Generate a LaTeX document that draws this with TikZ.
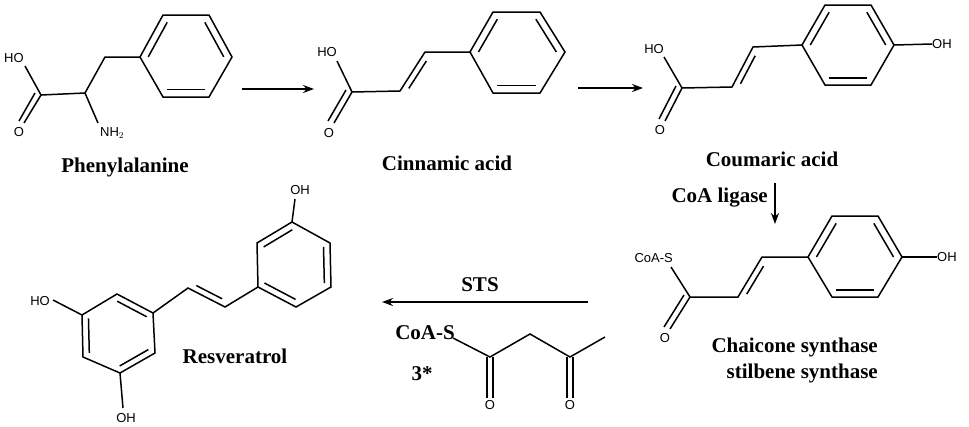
\documentclass[tikz,border=0pt]{standalone}
\usepackage{fontspec}
\setmainfont{Liberation Serif}
\newfontfamily\atomfont{Liberation Sans}
\usetikzlibrary{calc,arrows.meta}
\tikzset{
  bond/.style={line width=1.5pt},
  atom/.style={font=\atomfont\fontsize{13}{13}\selectfont,inner sep=0pt},
  lbl/.style={font=\bfseries\fontsize{21}{21}\selectfont,inner sep=0pt},
  rxn/.style={line width=1.5pt,-{Stealth[length=11pt,width=8pt]}},
}
\newcommand{\innerb}[3]{\draw[bond] ($(#1)!0.18!(#3)$) -- ($(#2)!0.18!(#3)$);}
\newcommand{\dblb}[3]{\draw[bond] ($ ($(#1)!0.15!(#2)$) !6pt!#3:(#2) $) -- ($ ($(#2)!0.15!(#1)$) !6pt!-#3:(#1) $);}
\begin{document}
\begin{tikzpicture}[x=1pt,y=-1pt]
\useasboundingbox (0,0) rectangle (969,426);
% ---------- Phenylalanine
\node[atom] (pHO) at (14,58) {HO};
\node[atom] (pO) at (19,132) {O};
\node[atom,anchor=west] (pN) at (100,133) {NH$_2$};
\coordinate (pc1) at (41,95); \coordinate (pc2) at (85,93); \coordinate (pc3) at (105,57);
\coordinate (pr1) at (140,57); \coordinate (pr2) at (163,15); \coordinate (pr3) at (209,15);
\coordinate (pr4) at (232,57); \coordinate (pr5) at (209,97); \coordinate (pr6) at (163,97);
\coordinate (prc) at (186,56);
\draw[bond] (25,66) -- (pc1) -- (pc2) -- (98,123);
\draw[bond] (pc1) -- (24,123);
\draw[bond] ($(pc1)+(-6,-2)$) -- (19,121);
\draw[bond] (pc2) -- (pc3) -- (pr1);
\draw[bond] (pr1)--(pr2)--(pr3)--(pr4)--(pr5)--(pr6)--cycle;
\innerb{pr1}{pr2}{prc}\innerb{pr3}{pr4}{prc}\innerb{pr5}{pr6}{prc}
\node[lbl] (lphe) at (125,167) {Phenylalanine};
\coordinate (a1s) at (242,89); \coordinate (a1e) at (314,89);
\draw[rxn] (a1s) -- (a1e);
% ---------- Cinnamic acid
\node[atom] (cHO) at (327,52) {HO};
\node[atom] (cO) at (329,133) {O};
\coordinate (cc1) at (352,92); \coordinate (cc2) at (400,91); \coordinate (cc3) at (425,52);
\coordinate (cr1) at (470,52); \coordinate (cr2) at (493,12); \coordinate (cr3) at (540,12);
\coordinate (cr4) at (565,52); \coordinate (cr5) at (540,93); \coordinate (cr6) at (493,93);
\coordinate (crc) at (517,52);
\draw[bond] (337,61) -- (cc1) -- (cc2) -- (cc3) -- (cr1);
\draw[bond] (cc1) -- (334,123);
\draw[bond] ($(cc1)+(-6,-2)$) -- (328,121);
\dblb{cc2}{cc3}{-90}
\draw[bond] (cr1)--(cr2)--(cr3)--(cr4)--(cr5)--(cr6)--cycle;
\innerb{cr1}{cr2}{crc}\innerb{cr3}{cr4}{crc}\innerb{cr5}{cr6}{crc}
\node[lbl] (lcin) at (447,163) {Cinnamic acid};
\coordinate (a2s) at (578,88); \coordinate (a2e) at (643,88);
\draw[rxn] (a2s) -- (a2e);
% ---------- Coumaric acid
\node[atom] (kHO) at (654,49) {HO};
\node[atom] (kO) at (660,130) {O};
\node[atom,anchor=west] (kOH) at (932,44) {OH};
\coordinate (kc1) at (682,88); \coordinate (kc2) at (732,87); \coordinate (kc3) at (753,47);
\coordinate (kr1) at (802,45); \coordinate (kr2) at (825,5); \coordinate (kr3) at (871,5);
\coordinate (kr4) at (894,45); \coordinate (kr5) at (871,85); \coordinate (kr6) at (825,85);
\coordinate (krc) at (848,45);
\draw[bond] (664,57) -- (kc1) -- (kc2) -- (kc3) -- (kr1);
\draw[bond] (kc1) -- (665,121);
\draw[bond] ($(kc1)+(-6,-2)$) -- (659,119);
\dblb{kc2}{kc3}{-90}
\draw[bond] (kr1)--(kr2)--(kr3)--(kr4)--(kr5)--(kr6)--cycle;
\innerb{kr1}{kr2}{krc}\innerb{kr3}{kr4}{krc}\innerb{kr5}{kr6}{krc}
\draw[bond] (kr4) -- (kOH.west);
\node[lbl] (lcou) at (772,159) {Coumaric acid};
\node[lbl,anchor=east] (lcoa) at (768,198) {CoA ligase};
\coordinate (a3s) at (775,183); \coordinate (a3e) at (775,224);
\draw[rxn] (a3s) -- (a3e);
% ---------- CoA ester
\node[atom,anchor=east] (sS) at (673,258) {CoA-S};
\node[atom] (sO) at (665,338) {O};
\node[atom,anchor=west] (sOH) at (937,257) {OH};
\coordinate (sc1) at (690,297); \coordinate (sc2) at (738,297); \coordinate (sc3) at (762,257);
\coordinate (sr1) at (808,257); \coordinate (sr2) at (832,216); \coordinate (sr3) at (878,216);
\coordinate (sr4) at (902,257); \coordinate (sr5) at (878,297); \coordinate (sr6) at (832,297);
\coordinate (src) at (855,257);
\draw[bond] (671,267) -- (sc1) -- (sc2) -- (sc3) -- (sr1);
\draw[bond] (sc1) -- (670,329);
\draw[bond] ($(sc1)+(-6,-2)$) -- (664,327);
\dblb{sc2}{sc3}{-90}
\draw[bond] (sr1)--(sr2)--(sr3)--(sr4)--(sr5)--(sr6)--cycle;
\innerb{sr1}{sr2}{src}\innerb{sr3}{sr4}{src}\innerb{sr5}{sr6}{src}
\draw[bond] (sr4) -- (sOH.west);
\node[lbl,anchor=east] (lchs) at (878,347) {Chaicone synthase};
\node[lbl,anchor=east] (lsts) at (878,373) {stilbene synthase};
% ---------- STS arrow and malonyl
\coordinate (a4s) at (588,302); \coordinate (a4e) at (382,302);
\draw[rxn] (a4s) -- (a4e);
\node[lbl] (lSTS) at (480,285) {STS};
\node[lbl,anchor=east] (mS) at (455,333) {CoA-S};
\node[lbl] (m3) at (422,374) {3*};
\coordinate (mc1) at (490,357); \coordinate (mc2) at (530,334); \coordinate (mc3) at (570,357); \coordinate (mc4) at (605,337);
\node[atom] (mO1) at (490,405) {O};
\node[atom] (mO2) at (570,405) {O};
\draw[bond] (453,338) -- (mc1) -- (mc2) -- (mc3) -- (mc4);
\draw[bond] ($(mc1)+(-3,0)$) -- ($(mO1.north)+(-3,-2)$);
\draw[bond] ($(mc1)+(3,0)$) -- ($(mO1.north)+(3,-2)$);
\draw[bond] ($(mc3)+(-3,0)$) -- ($(mO2.north)+(-3,-2)$);
\draw[bond] ($(mc3)+(3,0)$) -- ($(mO2.north)+(3,-2)$);
% ---------- Resveratrol
\node[atom] (rHO) at (40,301) {HO};
\node[atom] (rOHb) at (126,418) {OH};
\node[atom] (rOHt) at (300,190) {OH};
\coordinate (l1) at (117,294); \coordinate (l2) at (153,313); \coordinate (l3) at (155,353);
\coordinate (l4) at (120,373); \coordinate (l5) at (83,357); \coordinate (l6) at (82,315);
\coordinate (lc) at (118,334);
\draw[bond] (l1)--(l2)--(l3)--(l4)--(l5)--(l6)--cycle;
\innerb{l1}{l2}{lc}\innerb{l5}{l6}{lc}\innerb{l3}{l4}{lc}
\draw[bond] (l6) -- (53,300);
\draw[bond] (l4) -- (123,408);
\coordinate (v1) at (188,288); \coordinate (v2) at (225,307);
\coordinate (q1) at (258,287); \coordinate (q2) at (257,243); \coordinate (q3) at (292,222);
\coordinate (q4) at (330,243); \coordinate (q5) at (331,287); \coordinate (q6) at (296,307);
\coordinate (qc) at (294,265);
\draw[bond] (l2) -- (v1) -- (v2) -- (q1);
\dblb{v1}{v2}{90}
\draw[bond] (q1)--(q2)--(q3)--(q4)--(q5)--(q6)--cycle;
\innerb{q2}{q3}{qc}\innerb{q4}{q5}{qc}\innerb{q6}{q1}{qc}
\draw[bond] (q3) -- (295,199);
\node[lbl] (lres) at (235,356) {Resveratrol};
\end{tikzpicture}
\end{document}
